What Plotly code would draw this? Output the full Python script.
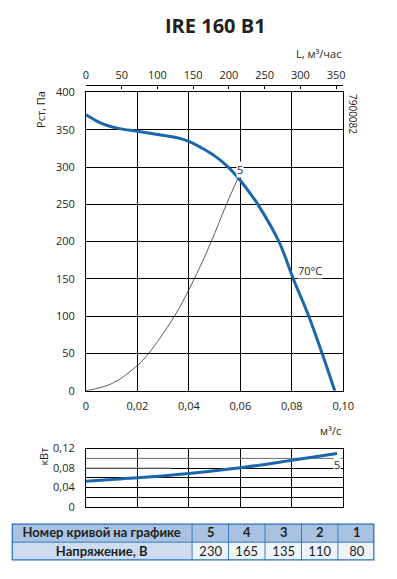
import plotly.graph_objects as go

W, H = 397, 579

# ---------------- data ----------------
# Fan curve (static pressure vs flow), curve 5
q_fan = [0.0, 0.004, 0.008, 0.013, 0.020, 0.029, 0.035, 0.040, 0.045, 0.050, 0.055, 0.060,
         0.065, 0.0668, 0.075, 0.0806, 0.0866, 0.0918, 0.0967]
p_fan = [370, 362, 356, 351.5, 348, 343, 339.5, 334.5, 325.5, 315, 301, 282,
         259, 250, 200, 150, 100, 50, 0]

# System (network) curve
q_sys = [0.0, 0.0103, 0.020, 0.0243, 0.0344, 0.0421, 0.0487, 0.0546, 0.0592]
p_sys = [0, 10, 34, 50, 100, 150, 200, 250, 286]

# Power consumption curve
q_pow = [0.0, 0.010, 0.020, 0.040, 0.060, 0.080, 0.0976]
w_pow = [0.053, 0.0565, 0.060, 0.069, 0.0806, 0.096, 0.110]

x_ticks = [0, 0.02, 0.04, 0.06, 0.08, 0.10]
x_ticktext = ["0", "0,02", "0,04", "0,06", "0,08", "0,10"]
top_ticks = [0, 50, 100, 150, 200, 250, 300, 350]
p_ticks = [0, 50, 100, 150, 200, 250, 300, 350, 400]
w_ticks = [0, 0.04, 0.08, 0.12]
w_ticktext = ["0", "0,04", "0,08", "0,12"]

table_header = ["Номер кривой на графике", "5", "4", "3", "2", "1"]
table_row = ["Напряжение, В", "230", "165", "135", "110", "80"]

# ---------------- layout helpers ----------------
def px_x(p):
    return p / W

def px_y(p):
    return 1 - p / H

BLUE = "#1c66ab"
TXT = "#231f20"
FONT = "Open Sans"
TFONT = "Lato"

x_dom = [px_x(86), px_x(352.7)]

fig = go.Figure()

fig.add_trace(go.Scatter(x=q_sys, y=p_sys, mode="lines", line=dict(color="#333333", width=0.8, shape="spline"),
                         xaxis="x", yaxis="y", hoverinfo="skip", showlegend=False))
fig.add_trace(go.Scatter(x=q_fan, y=p_fan, mode="lines", line=dict(color=BLUE, width=3, shape="spline"),
                         xaxis="x", yaxis="y", hoverinfo="skip", showlegend=False))
# same fan curve expressed in m3/h, invisible, so that the top axis is rendered
fig.add_trace(go.Scatter(x=[q * 3600 for q in q_fan], y=p_fan, mode="lines", opacity=0,
                         line=dict(width=0), xaxis="x2", yaxis="y", hoverinfo="skip", showlegend=False))
fig.add_trace(go.Scatter(x=q_pow, y=w_pow, mode="lines", line=dict(color=BLUE, width=3, shape="spline"),
                         xaxis="x3", yaxis="y3", hoverinfo="skip", showlegend=False))

# ---------------- table as a heatmap grid ----------------
col_w = [187] + [37.8] * 5
edges = [0]
for w_ in col_w:
    edges.append(edges[-1] + w_)
# row 0 = voltage row (bottom), row 1 = header row (top)
z_tab = [[1] + [2] * 5, [0] * 6]
txt_tab = [["<b>%s</b>" % table_row[0]] + table_row[1:],
           ["<b>%s</b>" % v for v in table_header]]
fig.add_trace(go.Heatmap(
    x=edges, y=[0, 1, 2], z=z_tab, text=txt_tab, texttemplate="%{text}",
    textfont=dict(family=TFONT, size=13, color=TXT),
    colorscale=[[0, "#a9c2e2"], [0.25, "#a9c2e2"], [0.25, "#cddcf0"], [0.75, "#cddcf0"],
                [0.75, "#eef3fa"], [1, "#eef3fa"]],
    zmin=0, zmax=2, showscale=False, hoverinfo="skip", xaxis="x4", yaxis="y4"))

axis_font = dict(family=FONT, size=11, color=TXT)

fig.update_layout(
    width=W, height=H, margin=dict(l=0, r=0, t=0, b=0),
    paper_bgcolor="white", plot_bgcolor="white", showlegend=False,
    xaxis=dict(domain=x_dom, range=[0, 0.1], anchor="y", tickvals=x_ticks, ticktext=x_ticktext,
               showgrid=True, gridcolor="black", gridwidth=1, showline=True, linecolor="black",
               linewidth=1, mirror=True, zeroline=False, ticks="", tickfont=axis_font,
               ticklabelstandoff=5, fixedrange=True),
    yaxis=dict(domain=[px_y(393), px_y(86.7)], range=[0, 400], anchor="x", tickvals=p_ticks,
               showgrid=True, gridcolor="black", gridwidth=1, showline=True, linecolor="black",
               linewidth=1, mirror=True, zeroline=False, ticks="", tickfont=axis_font,
               ticklabelstandoff=8, fixedrange=True),
    xaxis2=dict(overlaying="x", side="top", anchor="free", position=px_y(79), range=[0, 360],
                tickvals=top_ticks, showgrid=False, showline=True, linecolor="black", linewidth=1,
                ticks="inside", ticklen=3, tickcolor="black", zeroline=False, tickfont=axis_font,
                ticklabelstandoff=2, fixedrange=True),
    xaxis3=dict(domain=x_dom, range=[0, 0.1], anchor="y3", tickvals=x_ticks, showticklabels=False,
                showgrid=True, gridcolor="black", gridwidth=1, showline=True, linecolor="black",
                linewidth=1, mirror=True, zeroline=False, ticks="", fixedrange=True),
    yaxis3=dict(domain=[px_y(512.3), px_y(452.3)], range=[0, 0.12], anchor="x3",
                tickvals=w_ticks, ticktext=w_ticktext, showgrid=True, gridcolor="black",
                minor=dict(dtick=0.02, showgrid=True, gridcolor="black", gridwidth=1),
                showline=True, linecolor="black", linewidth=1, mirror=True, zeroline=False,
                ticks="", tickfont=axis_font, ticklabelstandoff=8, fixedrange=True),
    xaxis4=dict(domain=[px_x(9), px_x(385)], range=[0, edges[-1]], anchor="y4", visible=False,
                fixedrange=True),
    yaxis4=dict(domain=[px_y(567.3), px_y(529.3)], range=[0, 2], anchor="x4", visible=False,
                fixedrange=True),
)

# gray grid segments in the power chart
fig.add_shape(type="line", xref="x3", yref="y3", x0=0, x1=0.1, y0=0.10, y1=0.10,
              line=dict(color="#9a9a9a", width=1), layer="between")
fig.add_shape(type="line", xref="x3", yref="y3", x0=0, x1=0.033, y0=0.08, y1=0.08,
              line=dict(color="#9a9a9a", width=1), layer="between")

# table inner lines and outer border
for e in edges[1:-1]:
    fig.add_shape(type="line", xref="x4", yref="y4", x0=e, x1=e, y0=0, y1=2,
                  line=dict(color="#3d7cc0", width=1), layer="above")
fig.add_shape(type="line", xref="x4", yref="y4", x0=0, x1=edges[-1], y0=1, y1=1,
              line=dict(color="#3d7cc0", width=1), layer="above")
fig.add_shape(type="rect", xref="x4", yref="y4", x0=0, x1=edges[-1], y0=0, y1=2,
              line=dict(color="#2b74bd", width=2.5), layer="above")

ann = []
ann.append(dict(text="<b>IRE 160 B1</b>", x=px_x(220), y=px_y(18), xref="paper", yref="paper",
                showarrow=False, xanchor="center", yanchor="middle",
                font=dict(family=FONT, size=20, color=TXT)))
ann.append(dict(text="L, м³/час", x=px_x(352), y=px_y(46.5), xref="paper", yref="paper",
                showarrow=False, xanchor="right", yanchor="middle", font=axis_font))
ann.append(dict(text="Рст, Па", x=px_x(39), y=px_y(104), xref="paper", yref="paper",
                showarrow=False, xanchor="center", yanchor="middle", textangle=-90, font=axis_font))
ann.append(dict(text="7900082", x=px_x(363), y=px_y(109), xref="paper", yref="paper",
                showarrow=False, xanchor="center", yanchor="middle", textangle=90,
                font=dict(family=FONT, size=10, color=TXT)))
ann.append(dict(text="5", x=0.0597, y=297, xref="x", yref="y", showarrow=False,
                xanchor="center", yanchor="middle", bgcolor="white", borderpad=0,
                font=axis_font))
ann.append(dict(text="70°C", x=0.0822, y=161, xref="x", yref="y", showarrow=False,
                xanchor="left", yanchor="middle", bgcolor="white", borderpad=0, font=axis_font))
ann.append(dict(text="м³/с", x=px_x(352), y=px_y(434), xref="paper", yref="paper",
                showarrow=False, xanchor="right", yanchor="middle", font=axis_font))
ann.append(dict(text="кВт", x=px_x(42), y=px_y(461), xref="paper", yref="paper",
                showarrow=False, xanchor="center", yanchor="middle", textangle=-90, font=axis_font))
ann.append(dict(text="5", x=0.0974, y=0.088, xref="x3", yref="y3", showarrow=False,
                xanchor="center", yanchor="middle", bgcolor="white", borderpad=0, font=axis_font))
fig.update_layout(annotations=ann)

fig.write_html("out.html", post_script="document.body.style.margin='0';")
